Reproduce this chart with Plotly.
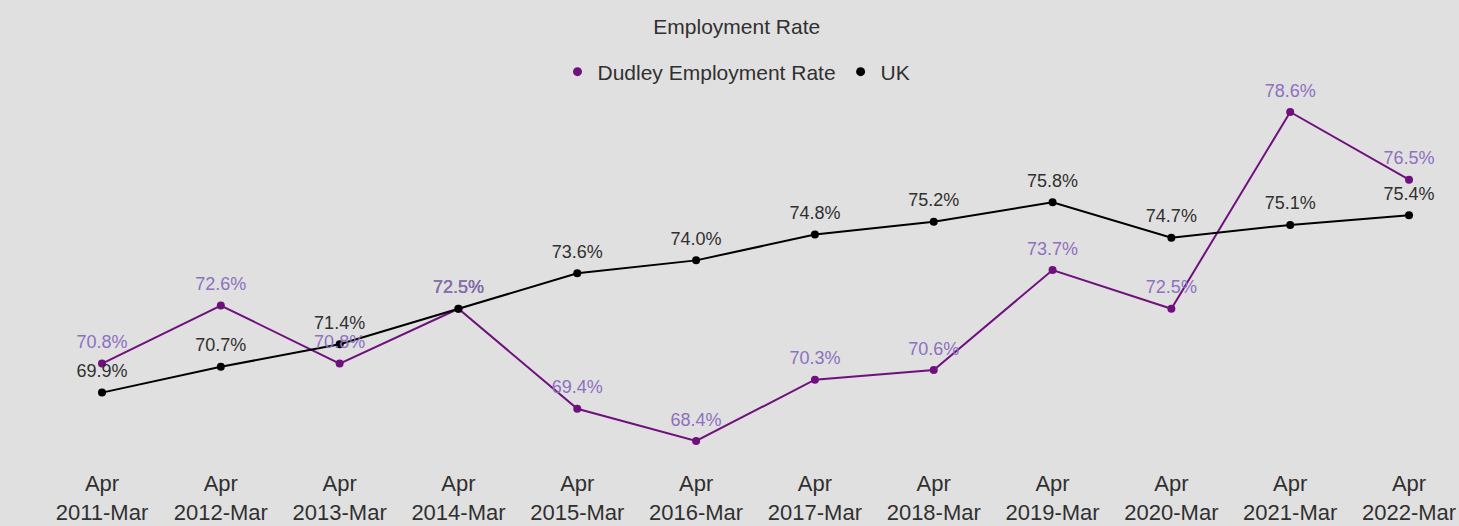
import plotly.graph_objects as go

categories = ["Apr<br>2011-Mar", "Apr<br>2012-Mar", "Apr<br>2013-Mar", "Apr<br>2014-Mar",
              "Apr<br>2015-Mar", "Apr<br>2016-Mar", "Apr<br>2017-Mar", "Apr<br>2018-Mar",
              "Apr<br>2019-Mar", "Apr<br>2020-Mar", "Apr<br>2021-Mar", "Apr<br>2022-Mar"]
dudley = [70.8, 72.6, 70.8, 72.5, 69.4, 68.4, 70.3, 70.6, 73.7, 72.5, 78.6, 76.5]
uk = [69.9, 70.7, 71.4, 72.5, 73.6, 74.0, 74.8, 75.2, 75.8, 74.7, 75.1, 75.4]

PURPLE = "#70107e"
LABEL_PURPLE = "#8e70bf"
BG = "#e0e0e0"
FONT = "Liberation Sans"

idx = list(range(len(categories)))

fig = go.Figure()
for vals, col in [(dudley, PURPLE), (uk, "#000000")]:
    fig.add_trace(go.Scatter(
        x=idx, y=vals, mode="lines+markers",
        line=dict(color=col, width=2), marker=dict(color=col, size=8),
        showlegend=False, cliponaxis=False, hoverinfo="skip"))
# data labels (UK first so the Dudley labels sit on top where they overlap)
for vals, lcol in [(uk, "#303030"), (dudley, LABEL_PURPLE)]:
    fig.add_trace(go.Scatter(
        x=idx, y=vals, mode="markers+text",
        marker=dict(color="rgba(0,0,0,0)", size=16),
        text=[f"{v:.1f}%" for v in vals], textposition="top center",
        textfont=dict(color=lcol, size=18, family=FONT),
        showlegend=False, cliponaxis=False, hoverinfo="skip"))
# legend entries (marker only, as in the original)
fig.add_trace(go.Scatter(x=[None], y=[None], mode="markers", name="Dudley Employment Rate",
                         marker=dict(color=PURPLE, size=9)))
fig.add_trace(go.Scatter(x=[None], y=[None], mode="markers", name="UK",
                         marker=dict(color="#000000", size=9)))

per = 118.82
r0 = -102 / per
r1 = r0 + 1459 / per

TOP, BOTTOM = 100, 468
PLOT_H = BOTTOM - TOP

fig.update_layout(
    width=1459, height=526,
    paper_bgcolor=BG, plot_bgcolor=BG,
    margin=dict(l=0, r=0, t=TOP, b=526 - BOTTOM, autoexpand=False),
    font=dict(family=FONT, color="#303030"),
    title=dict(text="Employment Rate", x=0.505, xanchor="center", y=1 - 27 / 526, yanchor="middle",
               font=dict(size=21, color="#303030", family=FONT)),
    legend=dict(orientation="h", x=0.5 + 7 / 1459, xanchor="center", y=1 + 28 / PLOT_H,
                yanchor="middle",
                font=dict(size=21, color="#303030", family=FONT), bgcolor="rgba(0,0,0,0)",
                itemwidth=30),
    xaxis=dict(tickmode="array", tickvals=idx, ticktext=categories, range=[r0, r1],
               showgrid=False, zeroline=False, showline=False, automargin=False,
               ticks="", tickfont=dict(size=22, color="#303030", family=FONT)),
    yaxis=dict(range=[67.563, 78.972], visible=False, showgrid=False, zeroline=False,
               automargin=False),
    hovermode=False,
)

fig.write_html("out.html", config={"displayModeBar": False},
               post_script="document.body.style.margin='0';document.body.style.overflow='hidden';")
